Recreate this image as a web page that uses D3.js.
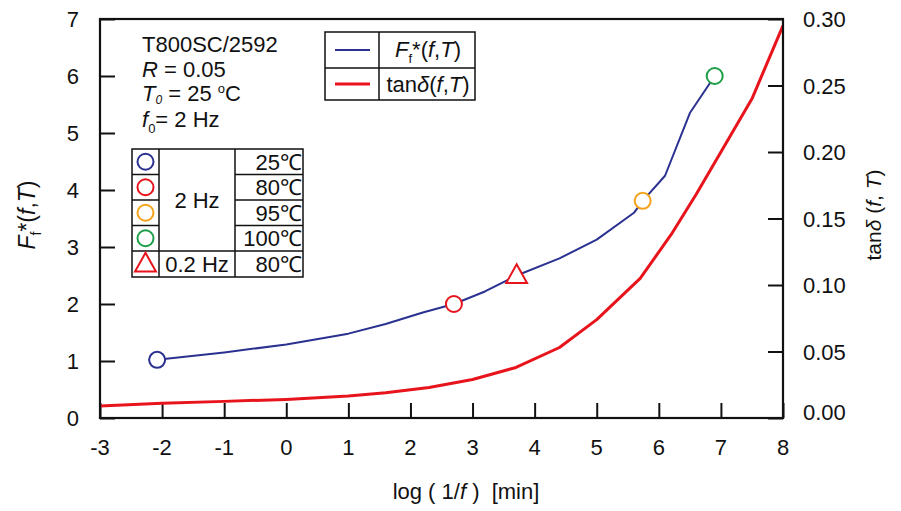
<!DOCTYPE html>
<html>
<head>
<meta charset="utf-8">
<script src="https://cdn.jsdelivr.net/npm/d3@7"></script>
<style>
  html, body { margin: 0; padding: 0; background: #fff; }
  svg text { font-family: "Liberation Sans", Arial, sans-serif; fill: #111; }
</style>
</head>
<body>
<svg id="chart" width="901" height="511"></svg>
<script>
// Master curve of the flexural fatigue factor and loss tangent vs. reduced time
const xTicks = [-3, -2, -1, 0, 1, 2, 3, 4, 5, 6, 7, 8];
const yLeftTicks = [0, 1, 2, 3, 4, 5, 6, 7];
const yRightTicks = [0.00, 0.05, 0.10, 0.15, 0.20, 0.25, 0.30];

// F_f*(f,T) master curve
const ffLogT = [-2.08, -1, 0, 1, 1.6, 2.2, 2.7, 3.2, 3.71, 4.4, 5, 5.6, 5.74, 6.1, 6.5, 6.9];
const ffVal  = [1.02, 1.15, 1.29, 1.48, 1.65, 1.85, 2.0, 2.22, 2.5, 2.8, 3.13, 3.6, 3.81, 4.25, 5.35, 6.0];

// tan delta master curve
const tdLogT = [-3, -2, -1, 0, 1, 1.6, 2.3, 3, 3.7, 4.4, 5, 5.7, 6.2, 6.6, 7, 7.5, 8];
const tdVal  = [0.009, 0.011, 0.0125, 0.014, 0.0165, 0.019, 0.023, 0.029, 0.038, 0.053, 0.074, 0.105, 0.138, 0.168, 0.200, 0.240, 0.295];

// measured points: frequency / temperature
const ptLabel = ["25℃", "80℃", "95℃", "100℃", "80℃"];
const ptFreq  = ["2 Hz", "2 Hz", "2 Hz", "2 Hz", "0.2 Hz"];
const ptLogT  = [-2.08, 2.70, 5.74, 6.90, 3.71];
const ptVal   = [1.02, 2.00, 3.81, 6.00, 2.50];
const ptColor = ["#2b3190", "#e8141c", "#f5a31c", "#1c9f48", "#e8141c"];
const ptShape = ["circle", "circle", "circle", "circle", "triangle"];

const BLUE = "#2b3190", RED = "#e8141c";

const svg = d3.select("#chart");
const L = 100, R = 783, T = 19, B = 418;

const x = d3.scaleLinear().domain([-3, 8]).range([L, R]);
const yL = d3.scaleLinear().domain([0, 7]).range([B, T]);
const yR = d3.scaleLinear().domain([0, 0.30]).range([B, T]);

const tickLen = 15;
const fs = 22;

// axes (ticks pointing inwards)
const gx = svg.append("g").attr("transform", `translate(0,${B})`)
  .call(d3.axisTop(x).tickValues(xTicks).tickSize(tickLen).tickFormat(""));
const gyl = svg.append("g").attr("transform", `translate(${L},0)`)
  .call(d3.axisRight(yL).tickValues(yLeftTicks).tickSize(tickLen).tickFormat(""));
const gyr = svg.append("g").attr("transform", `translate(${R},0)`)
  .call(d3.axisLeft(yR).tickValues(yRightTicks).tickSize(tickLen).tickFormat(""));
[gx, gyl, gyr].forEach(g => {
  g.select(".domain").remove();
  g.selectAll("line").attr("stroke", "#111").attr("stroke-width", 2);
});

// tick labels
svg.append("g").selectAll("text").data(xTicks).join("text")
  .attr("x", d => x(d)).attr("y", 455)
  .attr("text-anchor", "middle").attr("font-size", fs)
  .text(d => d);
svg.append("g").selectAll("text").data(yLeftTicks).join("text")
  .attr("x", 79).attr("y", d => yL(d) + 8)
  .attr("text-anchor", "end").attr("font-size", fs)
  .text(d => d);
svg.append("g").selectAll("text").data(yRightTicks).join("text")
  .attr("x", 803).attr("y", (d, i) => yR(d) + 8 - (i === 0 ? 6 : 0))
  .attr("text-anchor", "start").attr("font-size", fs)
  .text(d => d.toFixed(2));

// axis titles
const xt = svg.append("text").attr("x", 466).attr("y", 499)
  .attr("text-anchor", "middle").attr("font-size", 22);
xt.append("tspan").text("log ( 1/");
xt.append("tspan").attr("font-style", "italic").text("f");
xt.append("tspan").text(" )\u00a0\u00a0[min]");

const ylt = svg.append("text").attr("transform", "translate(35,215) rotate(-90)")
  .attr("text-anchor", "middle").attr("font-size", 23);
ylt.append("tspan").attr("font-style", "italic").text("F");
ylt.append("tspan").attr("font-size", 14).attr("dy", 6).text("f");
ylt.append("tspan").attr("dy", -6).text("*(");
ylt.append("tspan").attr("font-style", "italic").text("f");
ylt.append("tspan").text(",");
ylt.append("tspan").attr("font-style", "italic").text("T");
ylt.append("tspan").text(")");

const yrt = svg.append("text").attr("transform", "translate(881,215) rotate(-90)")
  .attr("text-anchor", "middle").attr("font-size", 21);
yrt.append("tspan").text("tan");
yrt.append("tspan").attr("font-style", "italic").text("δ");
yrt.append("tspan").text(" (");
yrt.append("tspan").attr("font-style", "italic").text("f");
yrt.append("tspan").text(", ");
yrt.append("tspan").attr("font-style", "italic").text("T");
yrt.append("tspan").text(")");

// curves
svg.append("clipPath").attr("id", "plotclip")
  .append("rect").attr("x", L).attr("y", T).attr("width", R - L).attr("height", B - T);

svg.append("path")
  .datum(tdLogT.map((d, i) => [d, tdVal[i]]))
  .attr("clip-path", "url(#plotclip)")
  .attr("fill", "none").attr("stroke", RED).attr("stroke-width", 3)
  .attr("stroke-linejoin", "round")
  .attr("d", d3.line().x(d => x(d[0])).y(d => yR(d[1])));

svg.append("path")
  .datum(ffLogT.map((d, i) => [d, ffVal[i]]))
  .attr("fill", "none").attr("stroke", BLUE).attr("stroke-width", 2)
  .attr("stroke-linejoin", "round")
  .attr("d", d3.line().x(d => x(d[0])).y(d => yL(d[1])));

// frame
svg.append("rect").attr("x", L).attr("y", T).attr("width", R - L).attr("height", B - T)
  .attr("fill", "none").attr("stroke", "#111").attr("stroke-width", 2.2);

// marker drawing helper
const triPath = (cx, cy, s) => `M${cx},${cy - s * 0.62}L${cx + s * 0.58},${cy + s * 0.42}L${cx - s * 0.58},${cy + s * 0.42}Z`;
function marker(g, shape, cx, cy, color) {
  if (shape === "circle") {
    g.append("circle").attr("cx", cx).attr("cy", cy).attr("r", 8)
      .attr("fill", "#fff").attr("stroke", color).attr("stroke-width", 2);
  } else {
    g.append("path").attr("d", triPath(cx, cy, 18))
      .attr("fill", "#fff").attr("stroke", color).attr("stroke-width", 2);
  }
}

const pts = svg.append("g");
ptLogT.forEach((d, i) => marker(pts, ptShape[i], x(d), yL(ptVal[i]), ptColor[i]));

// parameter annotation
const ann = svg.append("g").attr("font-size", 22);
ann.append("text").attr("x", 142).attr("y", 52).text("T800SC/2592");
const aR = ann.append("text").attr("x", 142).attr("y", 77);
aR.append("tspan").attr("font-style", "italic").text("R");
aR.append("tspan").text(" = 0.05");
const aT = ann.append("text").attr("x", 142).attr("y", 101);
aT.append("tspan").attr("font-style", "italic").text("T");
aT.append("tspan").attr("font-style", "italic").attr("font-size", 12).attr("dy", 3).text("0");
aT.append("tspan").attr("dy", -3).text(" = 25 ");
aT.append("tspan").attr("font-size", 13).attr("dy", -8).text("o");
aT.append("tspan").attr("dy", 8).text("C");
const aF = ann.append("text").attr("x", 142).attr("y", 127);
aF.append("tspan").attr("font-style", "italic").text("f");
aF.append("tspan").attr("font-size", 13).attr("dy", 6).text("0");
aF.append("tspan").attr("dy", -6).text("= 2 Hz");

// series legend box
const lg = svg.append("g");
const lgL = 325, lgR = 475, lgT = 32, lgM = 68, lgB = 100, lgD = 379;
lg.append("rect").attr("x", lgL).attr("y", lgT).attr("width", lgR - lgL).attr("height", lgB - lgT)
  .attr("fill", "#fff").attr("stroke", "#111").attr("stroke-width", 1.5);
lg.append("line").attr("x1", lgL).attr("x2", lgR).attr("y1", lgM).attr("y2", lgM).attr("stroke", "#111").attr("stroke-width", 1.5);
lg.append("line").attr("x1", lgD).attr("x2", lgD).attr("y1", lgT).attr("y2", lgB).attr("stroke", "#111").attr("stroke-width", 1.5);
lg.append("line").attr("x1", 335).attr("x2", 370).attr("y1", 50).attr("y2", 50).attr("stroke", BLUE).attr("stroke-width", 2);
lg.append("line").attr("x1", 335).attr("x2", 370).attr("y1", 84).attr("y2", 84).attr("stroke", RED).attr("stroke-width", 3);
const l1 = lg.append("text").attr("x", 428).attr("y", 57).attr("text-anchor", "middle").attr("font-size", 22);
l1.append("tspan").attr("font-style", "italic").text("F");
l1.append("tspan").attr("font-size", 13).attr("dy", 6).text("f");
l1.append("tspan").attr("dy", -6).text("*(");
l1.append("tspan").attr("font-style", "italic").text("f");
l1.append("tspan").text(",");
l1.append("tspan").attr("font-style", "italic").text("T");
l1.append("tspan").text(")");
const l2 = lg.append("text").attr("x", 428).attr("y", 92).attr("text-anchor", "middle").attr("font-size", 22);
l2.append("tspan").text("tan");
l2.append("tspan").attr("font-style", "italic").text("δ");
l2.append("tspan").text("(");
l2.append("tspan").attr("font-style", "italic").text("f");
l2.append("tspan").text(",");
l2.append("tspan").attr("font-style", "italic").text("T");
l2.append("tspan").text(")");

// measurement condition table
const tb = svg.append("g");
const tL = 132, c1 = 159, c2 = 235, tR = 303;
const rowY = [149, 174.5, 200, 225.5, 251, 277];
const ln = (x1, y1, x2, y2) => tb.append("line").attr("x1", x1).attr("y1", y1).attr("x2", x2).attr("y2", y2)
  .attr("stroke", "#111").attr("stroke-width", 1.5);
tb.append("rect").attr("x", tL).attr("y", rowY[0]).attr("width", tR - tL).attr("height", rowY[5] - rowY[0])
  .attr("fill", "#fff").attr("stroke", "#111").attr("stroke-width", 1.5);
ln(c1, rowY[0], c1, rowY[5]);
ln(c2, rowY[0], c2, rowY[5]);
for (let i = 1; i < 4; i++) { ln(tL, rowY[i], c1, rowY[i]); ln(c2, rowY[i], tR, rowY[i]); }
ln(tL, rowY[4], tR, rowY[4]);
ptLabel.forEach((t, i) => {
  const cy = (rowY[i] + rowY[i + 1]) / 2;
  marker(tb, ptShape[i], (tL + c1) / 2, cy, ptColor[i]);
  tb.append("text").attr("x", tR - 1).attr("y", cy + 8).attr("text-anchor", "end")
    .attr("font-size", 22).text(t);
});
tb.append("text").attr("x", (c1 + c2) / 2).attr("y", (rowY[0] + rowY[4]) / 2 + 8)
  .attr("text-anchor", "middle").attr("font-size", 22).text(ptFreq[0]);
tb.append("text").attr("x", (c1 + c2) / 2).attr("y", (rowY[4] + rowY[5]) / 2 + 8)
  .attr("text-anchor", "middle").attr("font-size", 22).text(ptFreq[4]);
</script>
</body>
</html>
